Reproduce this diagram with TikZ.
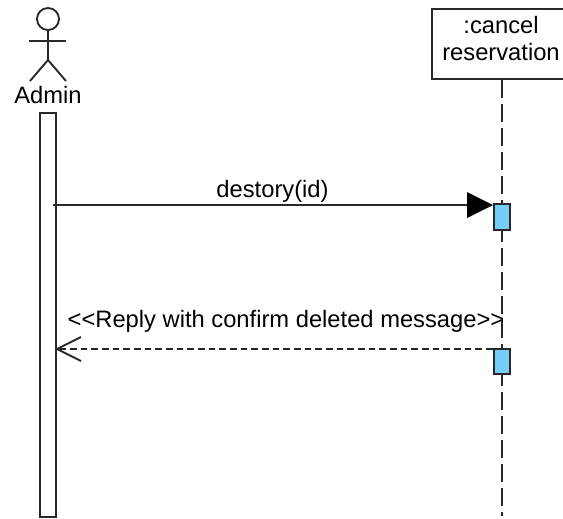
\documentclass[tikz,border=0pt]{standalone}
\usepackage{fontspec}
\setmainfont{Liberation Sans}
\definecolor{actfill}{RGB}{118,205,245}
\definecolor{ink}{RGB}{40,40,40}
\tikzset{
  x=0.75pt,y=-0.75pt,
  line/.style={draw=ink,line width=1.4pt},
  lifeline/.style={draw=ink,line width=1.4pt,dash pattern=on 13.5pt off 4.5pt},
  label/.style={font=\fontsize{17.8pt}{20.2pt}\selectfont,text=black,inner sep=0pt,align=center},
  activation/.style={draw=ink,line width=1.5pt,fill=actfill,minimum width=12.6pt,inner sep=0pt},
  adminbar/.style={draw=ink,line width=1.5pt,fill=white,inner sep=0pt},
}
\begin{document}
\begin{tikzpicture}
\useasboundingbox (0,0) rectangle (563,518);
\clip (0,0) rectangle (563,518);
% actor
\node[draw=ink,line width=1.4pt,circle,minimum size=16.5pt,inner sep=0pt] (head) at (48,19) {};
\coordinate (hip) at (48,60);
\coordinate (armL) at (29,41);
\coordinate (armR) at (66,41);
\coordinate (legL) at (30,81);
\coordinate (legR) at (66,81);
\draw[line] (head.south) -- (hip);
\draw[line] (armL) -- (armR);
\draw[line] (legL) -- (hip) -- (legR);
\node[label] (admin) at (48,95) {Admin};
% admin activation
\node[adminbar,minimum width=12pt,minimum height=303pt] (abar) at (48,315) {};
% participant (its right side runs off the page)
\node[draw=ink,line width=1.5pt,fill=white,minimum width=103.5pt,minimum height=52.5pt,inner sep=0pt] (cancel) at (501,44) {};
\node[label] (cancelText) at (501,38.5) {:cancel\\reservation};
\coordinate (lifeEnd) at (502,516);
\draw[lifeline] (cancel.south -| lifeEnd) -- (lifeEnd);
% activations
\node[activation,minimum height=19pt] (a1) at (502,217) {};
\node[activation,minimum height=18.5pt] (a2) at (502,361.5) {};
% messages
\coordinate (m1start) at (53,205);
\coordinate (m1neck) at (467,205);
\coordinate (m1top) at (467,192);
\coordinate (m1bot) at (467,218);
\coordinate (m1tip) at (493,205);
\draw[line] (m1start) -- (m1neck);
\fill[black] (m1top) -- (m1tip) -- (m1bot) -- cycle;
\node[label] (m1) at (272.5,191) {destory(id)};
\coordinate (m2end) at (57,349);
\coordinate (m2up) at (81,337);
\coordinate (m2down) at (81,361);
\draw[draw=ink,line width=1.3pt,dash pattern=on 5pt off 3pt] (a2.west |- m2end) -- (m2end);
\draw[line] (m2up) -- (m2end) -- (m2down);
\node[label] (m2) at (286,321.5) {{<}{<}Reply with confirm deleted message{>}{>}};
\end{tikzpicture}
\end{document}
